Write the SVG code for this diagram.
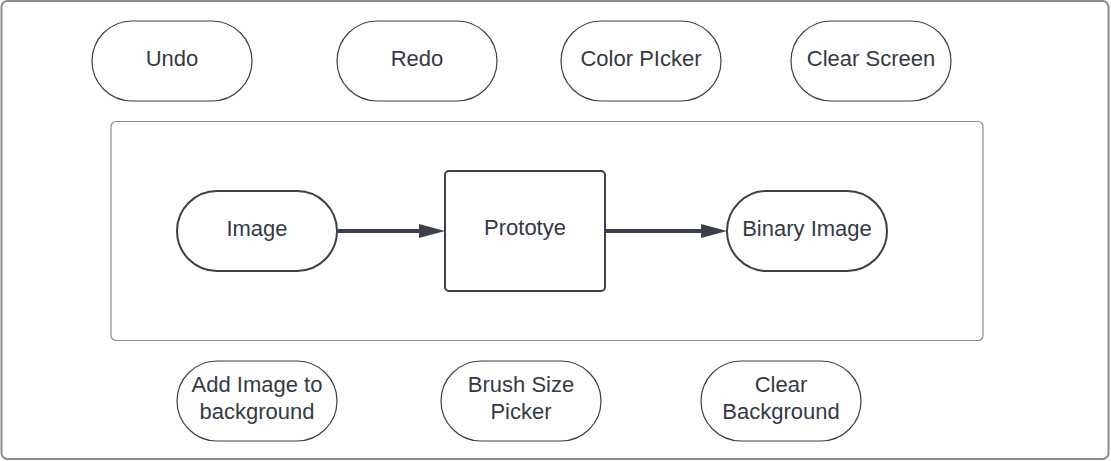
<svg xmlns="http://www.w3.org/2000/svg" width="1111" height="461" viewBox="0 0 1111 461">
<defs>
<style>
.frame{fill:#fff;stroke:#888b90;stroke-width:2}
.inner{fill:#fff;stroke:#8a8d92;stroke-width:1.2}
.pill{fill:#fff;stroke:#3a414a;stroke-width:1.2}
.node{fill:#fff;stroke:#3a414a;stroke-width:2}
.t{font-family:"Liberation Sans",Arial,sans-serif;font-size:22px;fill:#333a44;text-anchor:middle}
.conn{stroke:#3a414a;stroke-width:4;fill:none}
</style>
<marker id="ah" markerWidth="27" markerHeight="16" refX="0" refY="8" orient="auto" markerUnits="userSpaceOnUse" viewBox="0 0 27 16">
<path d="M0,1 L26,8 L0,15 Z" fill="#3a414a"/>
</marker>
</defs>
<rect class="frame" x="1.5" y="1" width="1107" height="458" rx="6"/>
<rect class="inner" x="111" y="121.5" width="872" height="219" rx="5"/>
<g id="undo"><rect class="pill" x="92" y="21" width="160" height="80" rx="40"/><text class="t" x="172" y="66">Undo</text></g>
<g id="redo"><rect class="pill" x="337" y="21" width="160" height="80" rx="40"/><text class="t" x="417" y="66">Redo</text></g>
<g id="colorpicker"><rect class="pill" x="561" y="21" width="160" height="80" rx="40"/><text class="t" x="641" y="66">Color PIcker</text></g>
<g id="clearscreen"><rect class="pill" x="791" y="21" width="160" height="80" rx="40"/><text class="t" x="871" y="66">Clear Screen</text></g>
<g id="image"><rect class="node" x="177" y="191" width="160" height="80" rx="40"/><text class="t" x="257" y="236">Image</text></g>
<g id="prototye"><rect class="node" x="445" y="171" width="160" height="120" rx="4"/><text class="t" x="525" y="235">Prototye</text></g>
<g id="binary"><rect class="node" x="727" y="191" width="160" height="80" rx="40"/><text class="t" x="807" y="236">Binary Image</text></g>
<g id="addimage"><rect class="pill" x="177" y="361" width="160" height="80" rx="40"/><text class="t" x="257" y="392">Add Image to</text><text class="t" x="257" y="419">background</text></g>
<g id="brush"><rect class="pill" x="441" y="361" width="160" height="80" rx="40"/><text class="t" x="521" y="392">Brush Size</text><text class="t" x="521" y="419">Picker</text></g>
<g id="clearbg"><rect class="pill" x="701" y="361" width="160" height="80" rx="40"/><text class="t" x="781" y="392">Clear</text><text class="t" x="781" y="419">Background</text></g>
<g id="connectors">
<line class="conn" x1="338" y1="231" x2="419" y2="231" marker-end="url(#ah)"/>
<line class="conn" x1="606" y1="231" x2="701" y2="231" marker-end="url(#ah)"/>
</g>
</svg>
